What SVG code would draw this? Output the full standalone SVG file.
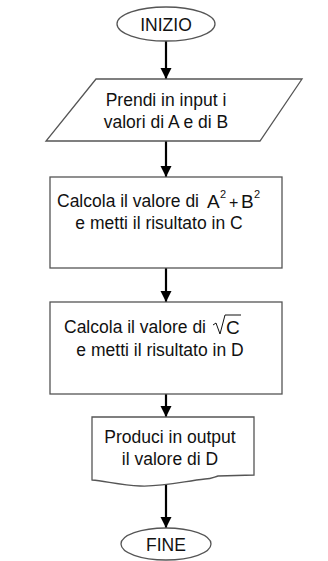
<svg xmlns="http://www.w3.org/2000/svg" width="328" height="561" viewBox="0 0 328 561">
<defs>
<marker id="ah" viewBox="0 0 10 10" refX="10" refY="5" markerWidth="5.2" markerHeight="5.2" orient="auto" markerUnits="strokeWidth">
<path d="M0,0 L10,5 L0,10 Z" fill="#000"/>
</marker>
<style>
.s{fill:#fff;stroke:#555;stroke-width:1.3}
.t{font-family:"Liberation Sans",Arial,sans-serif;font-size:17.5px;fill:#111;text-anchor:middle}
.l{font-family:"Liberation Sans",Arial,sans-serif;font-size:17.5px;fill:#111}
.m{font-family:"Liberation Sans",Arial,sans-serif;fill:#111}
.c{stroke:#000;stroke-width:2.2;fill:none;marker-end:url(#ah)}
</style>
</defs>
<rect width="328" height="561" fill="#fff"/>
<g id="connectors">
<line class="c" x1="166" y1="41" x2="166" y2="79"/>
<line class="c" x1="166" y1="141" x2="166" y2="177"/>
<line class="c" x1="166" y1="268" x2="166" y2="302"/>
<line class="c" x1="166" y1="394" x2="166" y2="417"/>
<line class="c" x1="166" y1="484" x2="166" y2="528"/>
</g>
<g id="start">
<ellipse class="s" cx="166" cy="24" rx="49" ry="17"/>
<text class="t" x="166" y="31" font-size="19">INIZIO</text>
</g>
<g id="input">
<polygon class="s" points="96,79 302,79 260,141 46,141"/>
<text class="t" x="166" y="106">Prendi in input i</text>
<text class="t" x="166" y="128">valori di A e di B</text>
</g>
<g id="calc1">
<rect class="s" x="50" y="177" width="232" height="91"/>
<text class="l" x="57" y="207">Calcola il valore di</text>
<text class="m" x="207" y="208" font-size="19">A</text>
<text class="m" x="220" y="198" font-size="11">2</text>
<text class="m" x="229" y="208" font-size="16" fill="#444">+</text>
<text class="m" x="241" y="208" font-size="19">B</text>
<text class="m" x="254" y="198" font-size="11">2</text>
<text class="t" x="159" y="229">e metti il risultato in C</text>
</g>
<g id="calc2">
<rect class="s" x="50" y="302" width="232" height="92"/>
<text class="l" x="64" y="333">Calcola il valore di</text>
<path d="M213,325 L216,323 L220,334 L225,315 L241,315" fill="none" stroke="#111" stroke-width="1"/>
<text class="m" x="226" y="334" font-size="19">C</text>
<text class="t" x="160" y="356">e metti il risultato in D</text>
</g>
<g id="output">
<path class="s" d="M92,417 L254,417 L254,475 L218,476 C214,477 212,479 205,479 C185,481 165,487 140,486 C120,485 105,481 92,480 Z"/>
<text class="t" x="170" y="443">Produci in output</text>
<text class="t" x="170" y="465">il valore di D</text>
</g>
<g id="end">
<ellipse class="s" cx="166" cy="544" rx="45" ry="16"/>
<text class="t" x="166" y="551" font-size="18.5">FINE</text>
</g>
</svg>
